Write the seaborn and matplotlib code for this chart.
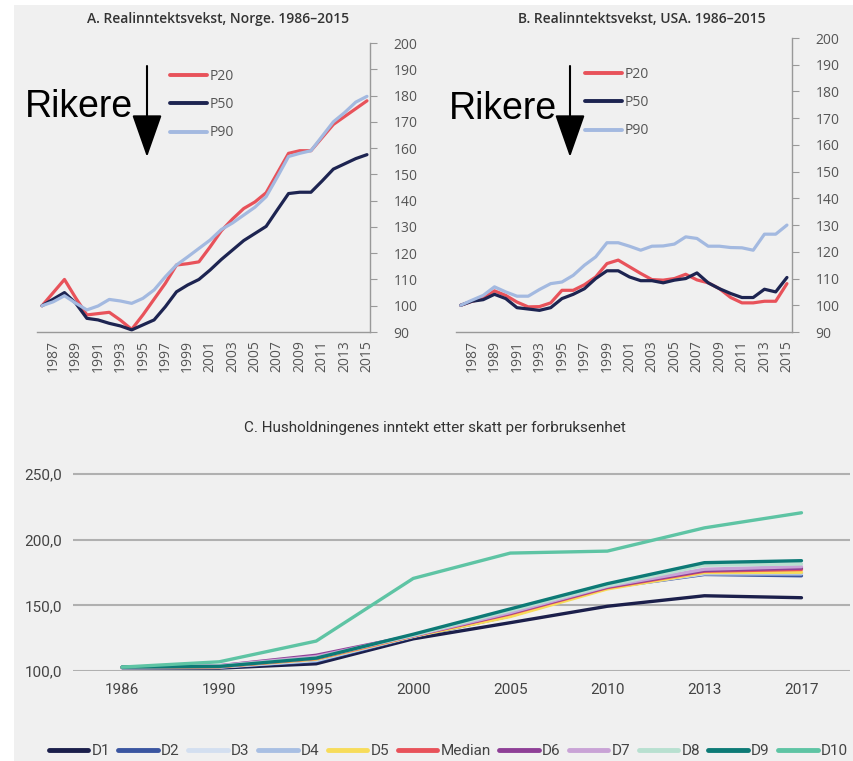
import pandas as pd
import matplotlib.pyplot as plt
import seaborn as sns
from matplotlib.lines import Line2D
from matplotlib.patches import Rectangle

# Data
years_ab = list(range(1986, 2016))

nor_p20 = [100, 105, 110, 103, 96.5, 97, 97.5, 94.5, 91, 96.5, 102.5, 108.5, 115.5, 116, 116.7, 122.4,
           128.5, 133, 137, 139.5, 143, 150.5, 158, 159, 159, 164, 169, 172, 175, 178]
nor_p50 = [100, 102.5, 105, 101, 95.2, 94.6, 93.3, 92.3, 90.8, 92.7, 94.6, 99.6, 105.3, 107.9, 110, 113.6,
           117.6, 121.2, 124.8, 127.5, 130.2, 136.5, 142.7, 143.2, 143.2, 147.5, 152, 154, 156, 157.5]
nor_p90 = [100, 101.5, 103.8, 101, 98.4, 99.9, 102.4, 101.8, 100.9, 102.8, 106, 111, 115.5, 118.6, 121.8, 125,
           129, 131.5, 134.5, 137.5, 141.5, 149, 156.8, 158, 159, 164.5, 170, 173.5, 177.5, 179.7]

usa_p20 = [100, 101.5, 102.5, 105.4, 103.7, 101.2, 99.4, 99.5, 100.9, 105.6, 105.6, 107.7, 110.6, 115.6, 116.9,
           114.4, 111.9, 109.6, 109.4, 110, 111.6, 109.5, 108.4, 106.2, 102.9, 100.9, 100.9, 101.5, 101.5, 108.1]
usa_p50 = [100, 101.5, 102.1, 104.1, 102.5, 99.1, 98.6, 98.1, 99.1, 102.5, 104.1, 106.2, 110, 112.9, 112.9,
           110.6, 109.2, 109.2, 108.4, 109.4, 110, 112.1, 108.4, 106.2, 104.4, 102.9, 102.9, 106, 105, 110.4]
usa_p90 = [100, 101.9, 103.7, 106.9, 105, 103.4, 103.4, 105.9, 108.1, 108.7, 111.2, 115, 118.1, 123.4, 123.4,
           122.1, 120.6, 122.1, 122.2, 122.9, 125.6, 125, 122.1, 122.1, 121.6, 121.5, 120.6, 126.6, 126.6, 130]

pct_names = ["P20", "P50", "P90"]
pct_colors = ["#e8525a", "#1d2451", "#a3b9e0"]

years_c = ["1986", "1990", "1995", "2000", "2005", "2010", "2013", "2017"]
dec_names = ["D1", "D2", "D3", "D4", "D5", "Median", "D6", "D7", "D8", "D9", "D10"]
dec_colors = ["#1b1f4b", "#3a55a0", "#d3dff0", "#a8bfe3", "#f7dc5a", "#e8525a",
              "#8e3f96", "#c9a3d6", "#b8e0d0", "#0d7a76", "#5ec4a4"]
d1 = [102.5, 102.2, 105.5, 124.5, 136.8, 149.3, 157.3, 155.8]
d2 = [102.7, 102.8, 107.5, 126, 142, 163.5, 173.5, 172.5]
d3 = [102.8, 103, 108, 126.5, 142.5, 163.5, 174, 174]
d4 = [102.8, 103.2, 108.5, 126.5, 143, 164, 174.5, 174.5]
d5 = [102.8, 103.3, 109, 126.5, 141.5, 162.5, 175, 175.2]
median = [102.8, 103.3, 109.5, 126.8, 143.5, 163.5, 176, 177.3]
d6 = [102.9, 104, 112, 127, 144, 164, 176.5, 178.3]
d7 = [103, 104, 111, 127, 144.5, 164.5, 177.5, 179.5]
d8 = [103, 103.7, 110, 127.3, 146, 165, 180.5, 181.5]
d9 = [103, 103.5, 109.8, 128, 147.3, 166.5, 182.5, 184]
d10 = [103, 107, 122.8, 170.5, 189.8, 191.3, 209, 220.5]
dec_values = [d1, d2, d3, d4, d5, median, d6, d7, d8, d9, d10]

W, H = 854, 761
BG = "#f0f0f0"
SANS = ["Open Sans", "DejaVu Sans"]
NARROW = ["Liberation Sans Narrow", "Roboto", "DejaVu Sans"]

sns.set_style("white")
plt.rcParams["font.family"] = SANS


def long_df(x, series, names):
    rows = []
    for name, vals in zip(names, series):
        for xx, v in zip(x, vals):
            rows.append((xx, v, name))
    return pd.DataFrame(rows, columns=["x", "value", "series"])


def fig_box(l, t, r, b):
    return [l / W, 1 - b / H, (r - l) / W, (b - t) / H]


fig = plt.figure(figsize=(W / 100, H / 100), dpi=100, facecolor="white")
fig.patches.append(Rectangle((14 / W, 0), 1 - 14 / W, 1 - 5 / H, transform=fig.transFigure,
                             facecolor=BG, edgecolor="none", zorder=-10))


def top_panel(box, series, title, xlim, title_x, leg_xy, rik_xy, arrow_x):
    ax = fig.add_axes(fig_box(*box))
    ax.set_facecolor(BG)
    df = long_df(years_ab, series, pct_names)
    sns.lineplot(data=df, x="x", y="value", hue="series", hue_order=pct_names,
                 palette=pct_colors, linewidth=2.3, legend=False, ax=ax)
    ax.set_xlim(*xlim)
    ax.set_ylim(90, 200)
    ax.set_xticks(list(range(1987, 2016, 2)))
    ax.set_xticklabels([str(y) for y in range(1987, 2016, 2)], rotation=90)
    ax.set_yticks(list(range(90, 201, 10)))
    ax.yaxis.tick_right()
    ax.tick_params(axis="y", length=5, color="#999999", labelsize=10, labelcolor="#555555", pad=12)
    ax.tick_params(axis="x", length=0, labelsize=10, labelcolor="#555555", pad=6)
    for s in ["left", "top"]:
        ax.spines[s].set_visible(False)
    for s in ["right", "bottom"]:
        ax.spines[s].set_color("#999999")
        ax.spines[s].set_linewidth(1)
    ax.set_xlabel("")
    ax.set_ylabel("")
    fig.text(title_x / W, 1 - 19 / H, title, ha="center", va="center", fontsize=10,
             color="#333333", fontweight="semibold")
    handles = [Line2D([], [], color=c, lw=2.8) for c in pct_colors]
    ax.legend(handles, pct_names, loc="upper left", bbox_to_anchor=(leg_xy[0] / W, 1 - leg_xy[1] / H),
              bbox_transform=fig.transFigure, frameon=False, fontsize=10, labelcolor="#555555",
              handlelength=2.7, handletextpad=0.15, labelspacing=0.95, borderpad=0, borderaxespad=0)
    fig.text(rik_xy[0] / W, 1 - rik_xy[1] / H, "Rikere", fontsize=27, va="baseline",
             family=["Liberation Sans", "DejaVu Sans"], color="black")
    ax.annotate("", xy=(arrow_x, H - 157), xytext=(arrow_x, H - 66), xycoords="figure pixels",
                textcoords="figure pixels",
                arrowprops=dict(arrowstyle="-|>,head_length=2.7,head_width=0.95", mutation_scale=10,
                                color="black", lw=1.5, shrinkA=0, shrinkB=0))
    return ax


top_panel((37, 43, 370, 332), [nor_p20, nor_p50, nor_p90], "A. Realinntektsvekst, Norge. 1986–2015",
          (1985.55, 2015.27), 218, (170, 69), (25, 117), 147)
top_panel((456, 38, 792, 332), [usa_p20, usa_p50, usa_p90], "B. Realinntektsvekst, USA. 1986–2015",
          (1985.58, 2015.45), 642, (585, 67), (449, 119), 570)

# Panel C
axc = fig.add_axes(fig_box(73, 471, 850, 671))
axc.set_facecolor(BG)
dfc = long_df(years_c, dec_values, dec_names)
sns.lineplot(data=dfc, x="x", y="value", hue="series", hue_order=dec_names,
             palette=dec_colors, linewidth=2.4, legend=False, ax=axc)
axc.set_xlim(-0.506, 7.5)
axc.set_ylim(100, 252.3)
axc.set_yticks([100, 150, 200, 250])
axc.set_yticklabels(["100,0", "150,0", "200,0", "250,0"], family=NARROW)
for lbl in axc.get_xticklabels():
    lbl.set_family(NARROW)
axc.grid(axis="y", color="#b0b0b0", linewidth=1.5)
axc.set_axisbelow(True)
axc.tick_params(axis="both", length=0, labelsize=11, labelcolor="#444444")
axc.tick_params(axis="x", pad=9)
axc.tick_params(axis="y", pad=8)
for s in axc.spines.values():
    s.set_visible(False)
axc.set_xlabel("")
axc.set_ylabel("")
fig.text(435 / W, 1 - 428 / H, "C. Husholdningenes inntekt etter skatt per forbruksenhet",
         ha="center", va="center", fontsize=11, color="#333333", family=NARROW)

handles = [Line2D([], [], color=c, lw=3.5) for c in dec_colors]
fig.legend(handles, dec_names, loc="center", bbox_to_anchor=(0.525, 1 - 751 / H), ncol=11,
           frameon=False, handlelength=2.6, handletextpad=0.2, columnspacing=0.55,
           prop={"family": NARROW, "size": 11}, labelcolor="#444444")

fig.savefig("out.png", dpi=100, facecolor="white")
